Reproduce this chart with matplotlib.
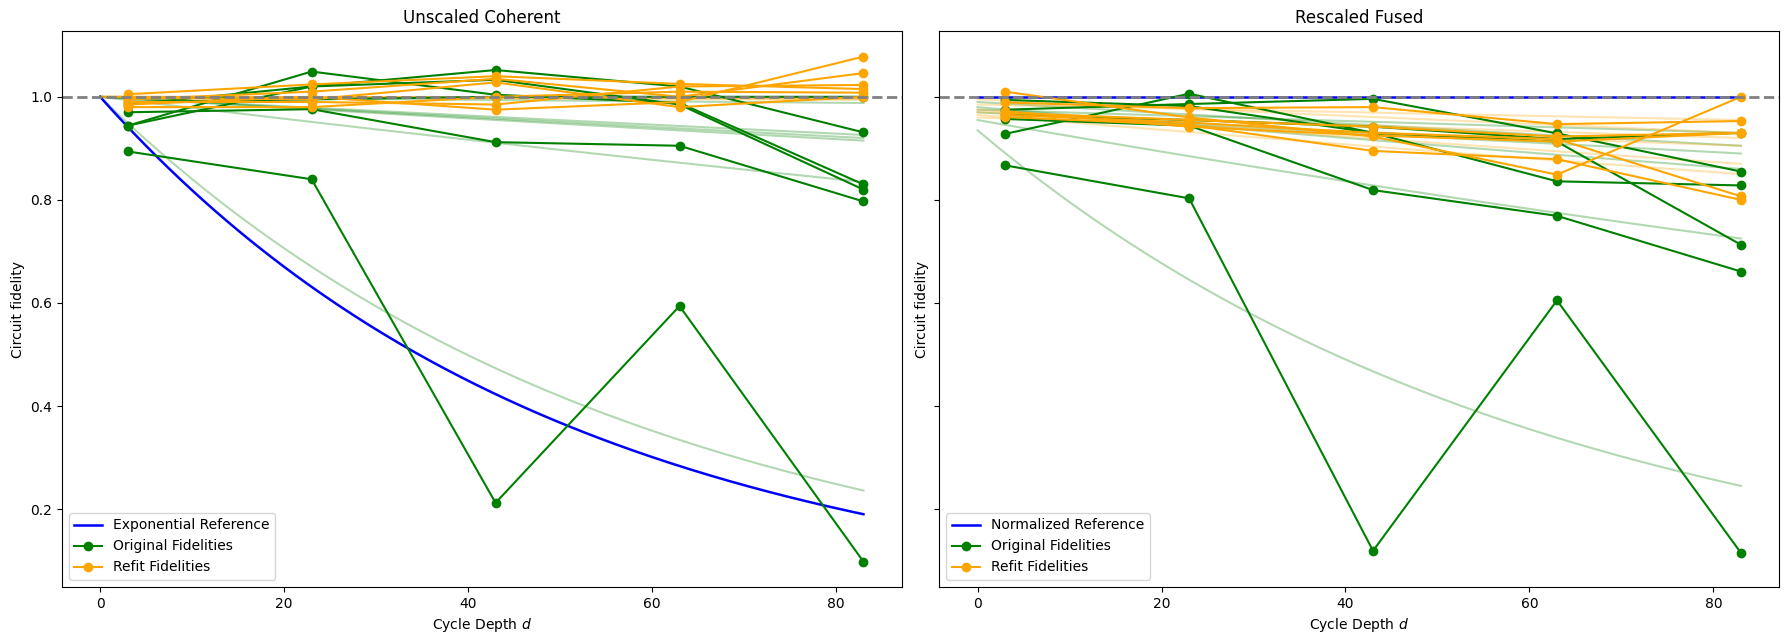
import numpy as np
import matplotlib
matplotlib.use("Agg")
import matplotlib.pyplot as plt

depths = [3, 23, 43, 63, 83]
d_max = 83

# ---- Left panel: Unscaled Coherent ----
left_original = [
    [0.944, 1.049, 1.004, 0.988, 0.830],
    [0.944, 1.020, 1.052, 1.020, 0.931],
    [0.985, 1.020, 1.033, 0.985, 0.820],
    [0.970, 0.976, 0.912, 0.905, 0.797],
    [0.894, 0.840, 0.212, 0.594, 0.098],
    [0.990, 0.995, 1.000, 1.000, 1.000],
]
left_refit = [
    [0.985, 1.000, 0.975, 0.990, 1.078],
    [0.995, 1.010, 1.035, 1.000, 1.046],
    [1.005, 1.024, 1.040, 1.025, 1.015],
    [0.990, 0.990, 0.985, 1.020, 1.023],
    [0.980, 0.980, 1.000, 1.010, 1.008],
    [0.998, 0.995, 1.028, 0.980, 1.000],
]
left_green_fit_amp = [1.0, 1.0, 1.0, 1.0, 1.0, 1.0]
left_green_fit_end = [0.920, 0.926, 0.915, 0.835, 0.236, 0.988]
left_orange_fit_amp = [1.0, 1.0, 1.0, 1.0, 1.0, 1.0]
left_orange_fit_end = [0.996, 0.998, 1.0, 0.997, 0.994, 0.999]
left_reference_end = 0.19

# ---- Right panel: Rescaled Fused ----
right_original = [
    [0.975, 0.986, 0.996, 0.929, 0.855],
    [0.928, 1.006, 0.930, 0.836, 0.828],
    [0.994, 0.982, 0.930, 0.913, 0.713],
    [0.957, 0.944, 0.819, 0.769, 0.661],
    [0.867, 0.803, 0.119, 0.605, 0.115],
    [0.965, 0.955, 0.942, 0.918, 0.930],
]
right_refit = [
    [1.010, 0.960, 0.923, 0.849, 1.000],
    [0.989, 0.978, 0.980, 0.947, 0.953],
    [0.969, 0.955, 0.942, 0.923, 0.930],
    [0.965, 0.950, 0.930, 0.918, 0.807],
    [0.961, 0.945, 0.895, 0.879, 0.800],
    [0.972, 0.942, 0.925, 0.913, 0.930],
]
right_green_fit_amp = [0.990, 0.980, 0.970, 0.955, 0.935, 0.975]
right_green_fit_end = [0.905, 0.860, 0.890, 0.725, 0.245, 0.930]
right_orange_fit_amp = [0.995, 0.985, 0.970, 0.975, 0.965, 0.960]
right_orange_fit_end = [0.930, 0.955, 0.920, 0.870, 0.850, 0.905]
right_reference_value = 1.0

green = "green"
orange = "orange"

fig, axes = plt.subplots(1, 2, figsize=(17.9, 6.4), dpi=100, sharey=True)
fig.subplots_adjust(left=0.0346, right=0.9939, top=0.951, bottom=0.083, wspace=0.045)

dd = np.linspace(0, d_max, 200)


def draw_panel(ax, original, refit, g_amp, g_end, o_amp, o_end, ref_curve, ref_label, title):
    for a, e in zip(g_amp, g_end):
        p = (e / a) ** (1.0 / d_max)
        ax.plot(dd, a * p ** dd, color=green, alpha=0.3, linewidth=1.5)
    for a, e in zip(o_amp, o_end):
        p = (e / a) ** (1.0 / d_max)
        ax.plot(dd, a * p ** dd, color=orange, alpha=0.3, linewidth=1.5)
    ax.plot(dd, ref_curve, color="blue", linewidth=1.8, label=ref_label)
    for i, ys in enumerate(original):
        ax.plot(depths, ys, color=green, marker="o", linewidth=1.5,
                label="Original Fidelities" if i == 0 else None)
    for i, ys in enumerate(refit):
        ax.plot(depths, ys, color=orange, marker="o", linewidth=1.5,
                label="Refit Fidelities" if i == 0 else None)
    ax.axhline(1.0, color="gray", linestyle="--", linewidth=2)
    ax.set_title(title)
    ax.set_xlabel("Cycle Depth $d$")
    ax.set_ylabel("Circuit fidelity")
    ax.legend(loc="lower left")


p_ref = left_reference_end ** (1.0 / d_max)
draw_panel(axes[0], left_original, left_refit, left_green_fit_amp, left_green_fit_end,
           left_orange_fit_amp, left_orange_fit_end, p_ref ** dd,
           "Exponential Reference", "Unscaled Coherent")
draw_panel(axes[1], right_original, right_refit, right_green_fit_amp, right_green_fit_end,
           right_orange_fit_amp, right_orange_fit_end, np.full_like(dd, right_reference_value),
           "Normalized Reference", "Rescaled Fused")

fig.savefig("out.png", dpi=100)
